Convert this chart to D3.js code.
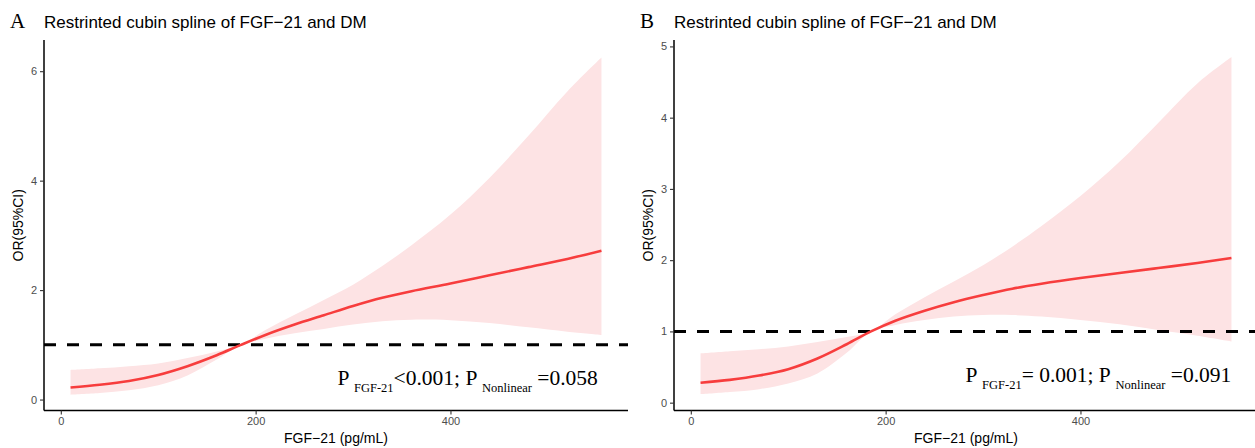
<!DOCTYPE html>
<html><head><meta charset="utf-8">
<script src="https://cdn.jsdelivr.net/npm/d3@7"></script>
<style>body{margin:0;background:#fff}svg{display:block}</style>
</head><body><svg id="c" width="1255" height="448"></svg>
<script>
// FGF-21 grid (pg/mL)
const fgf   = [10, 40, 70, 100, 130, 160, 185, 210, 240, 270, 300, 330, 360, 400, 440, 480, 520, 555];
// Panel A
const orA   = [0.22,0.27,0.34,0.45,0.61,0.81,1.00,1.18,1.37,1.54,1.71,1.86,1.98,2.12,2.27,2.42,2.57,2.72];
const lowA  = [0.09,0.12,0.17,0.26,0.44,0.73,1.00,1.11,1.21,1.29,1.37,1.43,1.46,1.45,1.40,1.32,1.24,1.18];
const upA   = [0.54,0.57,0.61,0.66,0.76,0.88,1.00,1.27,1.55,1.82,2.10,2.44,2.82,3.38,4.05,4.82,5.63,6.25];
// Panel B
const orB   = [0.28,0.32,0.38,0.47,0.62,0.82,1.00,1.15,1.29,1.41,1.51,1.60,1.67,1.75,1.82,1.89,1.96,2.03];
const lowB  = [0.12,0.15,0.19,0.27,0.41,0.70,1.00,1.09,1.16,1.21,1.23,1.23,1.21,1.16,1.10,1.02,0.94,0.86];
const upB   = [0.69,0.72,0.75,0.79,0.85,0.92,1.00,1.24,1.48,1.70,1.93,2.19,2.48,2.90,3.38,3.93,4.48,4.85];
const xTicks  = [0, 200, 400];
const yTicksA = [0, 2, 4, 6];
const yTicksB = [0, 1, 2, 3, 4, 5];
const titleText = "Restrinted cubin spline of FGF\u221221 and DM";
const xLabel = "FGF\u221221 (pg/mL)";
const yLabel = "OR(95%CI)";
const refOR = 1;

const panels = [
  {letter:"A", left:44, or:orA, lo:lowA, hi:upA, yDomain:[-0.2,6.57], yTicks:yTicksA,
   p1:"<0.001; P", p2:" =0.058", annX:284, annY:0.26},
  {letter:"B", left:674, or:orB, lo:lowB, hi:upB, yDomain:[-0.11,5.09], yTicks:yTicksB,
   p1:"= 0.001; P", p2:" =0.091", annX:282, annY:0.29}
];

const svg = d3.select("#c");
const PW = 584, PT = 40, PB = 410.5;
const sans = "'Liberation Sans', Arial, sans-serif";
const serif = "'Liberation Serif', 'Times New Roman', serif";
const curve = d3.curveCatmullRom.alpha(0.5);

panels.forEach(p => {
  const x = d3.scaleLinear().domain([-17.25, 582.25]).range([p.left, p.left + PW]);
  const y = d3.scaleLinear().domain(p.yDomain).range([PB, PT]);
  const g = svg.append("g");
  const data = fgf.map((v,i)=>({x:v, m:p.or[i], lo:p.lo[i], hi:p.hi[i]}));

  g.append("path").datum(data)
    .attr("d", d3.area().x(d=>x(d.x)).y0(d=>y(d.lo)).y1(d=>y(d.hi)).curve(curve))
    .attr("fill", "#fde3e4");
  g.append("line").attr("x1", x.range()[0]).attr("x2", x.range()[1])
    .attr("y1", y(refOR)).attr("y2", y(refOR))
    .attr("stroke", "#000").attr("stroke-width", 3).attr("stroke-dasharray", "12,11");
  g.append("path").datum(data)
    .attr("d", d3.line().x(d=>x(d.x)).y(d=>y(d.m)).curve(curve))
    .attr("fill", "none").attr("stroke", "#f73d3d").attr("stroke-width", 2.6);

  const xa = g.append("g").attr("transform", `translate(0,${PB})`)
    .call(d3.axisBottom(x).tickValues(xTicks).tickSize(4).tickPadding(3).tickFormat(d3.format("d")));
  const ya = g.append("g").attr("transform", `translate(${p.left},0)`)
    .call(d3.axisLeft(y).tickValues(p.yTicks).tickSize(4).tickPadding(3).tickFormat(d3.format("d")));
  [xa, ya].forEach(a => {
    a.select(".domain").attr("stroke", "#000").attr("stroke-width", 1.5);
    a.selectAll(".tick line").attr("stroke", "#333").attr("stroke-width", 1.1);
    a.selectAll(".tick text").attr("fill", "#4d4d4d").style("font-family", sans).style("font-size", "11px");
  });
  xa.select(".domain").attr("d", `M${x.range()[0]},0H${x.range()[1]}`);
  ya.select(".domain").attr("d", `M0,${PB}V${PT}`);

  g.append("text").attr("x", p.left - 34).attr("y", 28).text(p.letter)
    .style("font-family", serif).style("font-size", "21px").attr("fill", "#000");
  g.append("text").attr("x", p.left).attr("y", 28).text(titleText)
    .style("font-family", sans).style("font-size", "17px").attr("fill", "#000");
  g.append("text").attr("x", p.left + PW/2).attr("y", 443).attr("text-anchor", "middle").text(xLabel)
    .style("font-family", sans).style("font-size", "14px").attr("fill", "#000");
  g.append("text").attr("transform", `translate(${p.left - 21},${(PT+PB)/2}) rotate(-90)`)
    .attr("text-anchor", "middle").text(yLabel)
    .style("font-family", sans).style("font-size", "14px").attr("fill", "#000");

  const t = g.append("text").attr("x", x(p.annX)).attr("y", y(p.annY))
    .style("font-family", serif).style("font-size", "21.5px").attr("fill", "#000");
  t.append("tspan").text("P ");
  t.append("tspan").attr("dy", 7).style("font-size", "12.5px").text("FGF-21");
  t.append("tspan").attr("dy", -7).text(p.p1 + " ");
  t.append("tspan").attr("dy", 7).style("font-size", "12.5px").text("Nonlinear");
  t.append("tspan").attr("dy", -7).text(p.p2);
});
</script></body></html>
